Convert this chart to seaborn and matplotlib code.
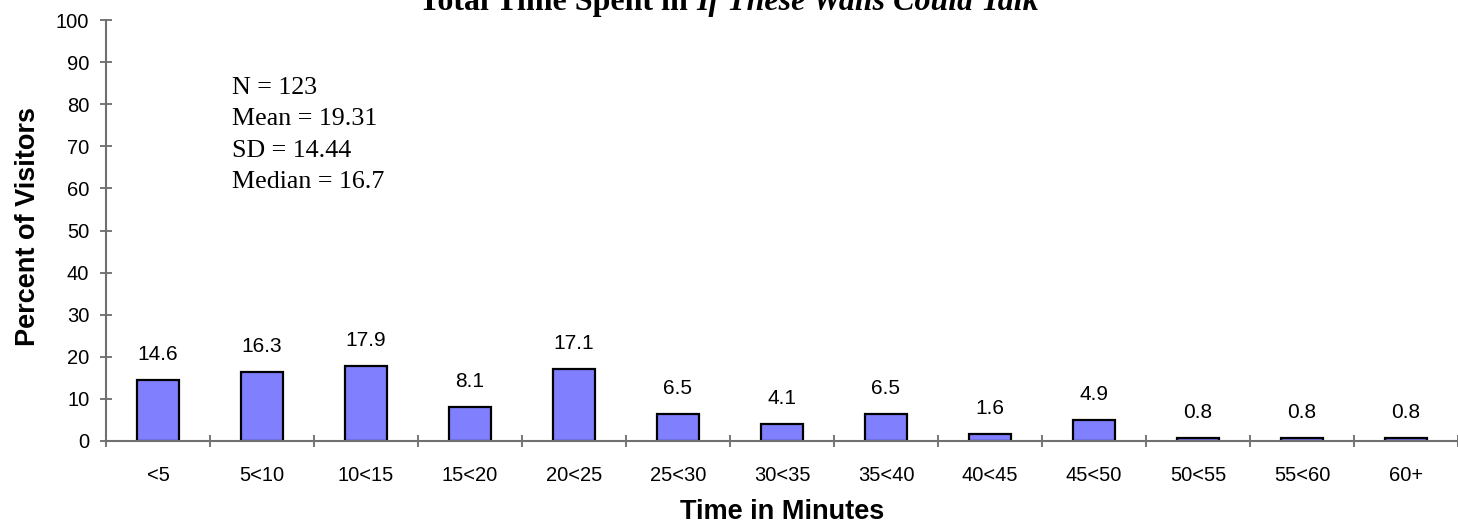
import matplotlib
matplotlib.use("Agg")
import matplotlib.pyplot as plt
from matplotlib.ticker import FixedLocator
import seaborn as sns
import pandas as pd

categories = ["<5", "5<10", "10<15", "15<20", "20<25", "25<30", "30<35",
              "35<40", "40<45", "45<50", "50<55", "55<60", "60+"]
percents = [14.6, 16.3, 17.9, 8.1, 17.1, 6.5, 4.1, 6.5, 1.6, 4.9, 0.8, 0.8, 0.8]
y_ticks = list(range(0, 101, 10))
stats_lines = ["N = 123", "Mean = 19.31", "SD = 14.44", "Median = 16.7"]

sns.set_theme(style="white")
plt.rcParams["font.family"] = ["Liberation Sans", "DejaVu Sans"]

df = pd.DataFrame({"Time": categories, "Percent": percents})

W, H = 1458, 532
fig = plt.figure(figsize=(W / 100, H / 100), dpi=100)
ax = fig.add_axes([106 / W, 1 - 441 / H, 1 - 106 / W, (441 - 20) / H])

sns.barplot(data=df, x="Time", y="Percent", order=categories, color="#8080FF",
            saturation=1, width=0.41, edgecolor="black", linewidth=1.6, ax=ax)

ax.set_xlim(-0.5, len(categories) - 0.5)
ax.set_ylim(0, 100)
ax.set_yticks(y_ticks)
ax.set_yticklabels([str(t) for t in y_ticks], fontsize=14.5, color="black")

# category labels sit at bar centres; tick marks sit at category boundaries
ax.set_xticks(range(len(categories)))
ax.set_xticklabels(categories, fontsize=14.5, color="black")
ax.xaxis.set_minor_locator(FixedLocator([i - 0.5 for i in range(len(categories) + 1)]))
ax.tick_params(axis="x", which="major", length=0, pad=18)
ax.tick_params(axis="x", which="minor", direction="inout", length=9, width=1.2,
               color="#606060", bottom=True)
ax.tick_params(axis="y", which="major", direction="inout", length=9, width=1.2,
               color="#606060", left=True, pad=7.5)

for side in ("top", "right"):
    ax.spines[side].set_visible(False)
for side in ("left", "bottom"):
    ax.spines[side].set_color("#707070")
    ax.spines[side].set_linewidth(1.5)

for i, v in enumerate(percents):
    ax.annotate(f"{v}", (i, v), xytext=(0, 14.4), textcoords="offset points",
                ha="center", va="baseline", fontsize=15, color="black")

ax.set_xlabel("Time in Minutes", fontsize=19.5, fontweight="bold", color="black")
ax.xaxis.set_label_coords(0.5, -0.138)
ax.set_ylabel("Percent of Visitors", fontsize=19.5, fontweight="bold", color="black")
ax.yaxis.set_label_coords(-0.048, 0.51)

ax.text(0.0932, 0.865, "\n".join(stats_lines), transform=ax.transAxes,
        ha="left", va="top", fontsize=18.7, family="Liberation Serif",
        linespacing=1.55, color="black")

# title: bold serif with the exhibit name in italics, centred on the figure
title_y = 1 - 10 / H
title_size = 23
t1 = fig.text(0.5, title_y, "Total Time Spent in ", ha="left", va="baseline",
              fontsize=title_size, fontweight="bold", family="Liberation Serif",
              color="black")
t2 = fig.text(0.5, title_y, "If These Walls Could Talk", ha="left", va="baseline",
              fontsize=title_size, fontweight="bold", fontstyle="italic",
              family="Liberation Serif", color="black")
fig.canvas.draw()
w_left = t1.get_window_extent().width
w_right = t2.get_window_extent().width
x0 = W / 2 - (w_left + w_right) / 2
t1.set_x(x0 / W)
t2.set_x((x0 + w_left) / W)

fig.savefig("out.png", dpi=100)
